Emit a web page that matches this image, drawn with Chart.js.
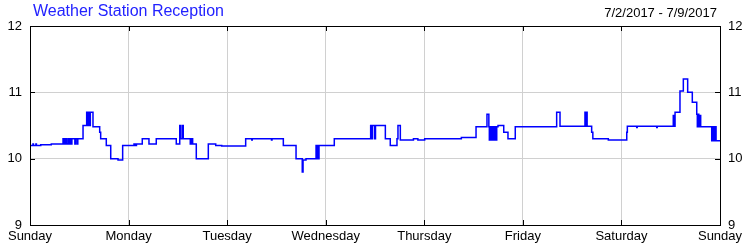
<!DOCTYPE html>
<html>
<head>
<meta charset="utf-8">
<script src="https://cdn.jsdelivr.net/npm/chart.js@4"></script>
<style>
  body { margin: 0; background: #fff; }
</style>
</head>
<body>
<canvas id="myChart" width="750" height="250"></canvas>
<script>
const titleText = "Weather Station Reception";
const dateRange = "7/2/2017 - 7/9/2017";
const days = ["Sunday", "Monday", "Tuesday", "Wednesday", "Thursday", "Friday", "Saturday", "Sunday"];
const yTicks = [9, 10, 11, 12];

// time in days since Sunday 00:00, value holds until next point
const times = [
  0.00, 0.03, 0.035, 0.06, 0.065, 0.109, 0.216, 0.335, 0.345, 0.36, 0.37, 0.386, 0.395, 0.405, 0.415, 0.425,
  0.455, 0.462, 0.478, 0.485, 0.538, 0.575, 0.585, 0.595, 0.60, 0.612, 0.639, 0.707, 0.717, 0.774, 0.819, 0.893, 0.940,
  1.055, 1.065, 1.08, 1.139, 1.207, 1.281, 1.484, 1.519, 1.527, 1.545, 1.555, 1.626, 1.64, 1.65, 1.687,
  1.809, 1.884, 1.945, 2.188, 2.25, 2.255, 2.45, 2.455, 2.570, 2.699, 2.762, 2.77, 2.800, 2.902, 2.91, 2.925, 2.928, 2.932,
  3.087, 3.456, 3.465, 3.475, 3.497, 3.505, 3.605, 3.655, 3.723, 3.733, 3.757, 3.89, 3.935, 4.004, 4.376, 4.525,
  4.636, 4.655, 4.660, 4.67, 4.68, 4.69, 4.70, 4.71, 4.72, 4.735, 4.748, 4.806, 4.849, 4.923, 5.184,
  5.343, 5.377, 5.630, 5.637, 5.645, 5.652, 5.698, 5.71, 5.867, 6.054, 6.06, 6.155, 6.16, 6.358, 6.363,
  6.526, 6.535, 6.544, 6.594, 6.628, 6.672, 6.719, 6.764, 6.77, 6.78, 6.785, 6.795, 6.804,
  6.916, 6.925, 6.94, 6.95, 6.96, 7.0
];
const reception = [
  10.20, 10.22, 10.20, 10.22, 10.20, 10.21, 10.22, 10.30, 10.22, 10.30, 10.22, 10.30, 10.22, 10.30, 10.22, 10.30,
  10.22, 10.30, 10.22, 10.30, 10.50, 10.70, 10.50, 10.70, 10.50, 10.70, 10.48, 10.40, 10.30, 10.20, 10.00, 9.98, 10.20,
  10.22, 10.20, 10.22, 10.30, 10.22, 10.30, 10.22, 10.50, 10.30, 10.50, 10.30, 10.22, 10.30, 10.22, 10.00,
  10.22, 10.20, 10.19, 10.30, 10.28, 10.30, 10.28, 10.30, 10.20, 10.00, 9.80, 9.98, 10.00, 10.20, 10.00, 10.20, 10.00, 10.20,
  10.30, 10.50, 10.30, 10.50, 10.30, 10.50, 10.30, 10.20, 10.30, 10.50, 10.28, 10.30, 10.28, 10.30, 10.32, 10.48,
  10.67, 10.48, 10.28, 10.48, 10.28, 10.48, 10.28, 10.48, 10.28, 10.48, 10.50, 10.40, 10.30, 10.48, 10.48,
  10.70, 10.49, 10.70, 10.49, 10.70, 10.49, 10.40, 10.30, 10.28, 10.40, 10.49, 10.47, 10.49, 10.47, 10.49,
  10.65, 10.49, 10.70, 11.02, 11.20, 11.00, 10.85, 10.67, 10.48, 10.67, 10.48, 10.65, 10.48,
  10.27, 10.48, 10.27, 10.48, 10.27, 10.27
];

const fontFamily = "'Liberation Sans', Arial, sans-serif";

const frame = {
  id: "frame",
  afterDatasetsDraw(chart) {
    const { ctx, chartArea: a, scales } = chart;
    ctx.save();
    ctx.strokeStyle = "#000";
    ctx.lineWidth = 1;
    ctx.beginPath();
    days.forEach((d, i) => {
      const x = Math.round(scales.x.getPixelForValue(i)) + 0.5;
      ctx.moveTo(x, a.bottom);
      ctx.lineTo(x, a.bottom - 5);
      ctx.moveTo(x, a.top);
      ctx.lineTo(x, a.top + 5);
    });
    yTicks.forEach((v) => {
      const y = Math.round(scales.y.getPixelForValue(v)) + 0.5;
      ctx.moveTo(a.left, y);
      ctx.lineTo(a.left + 5, y);
      ctx.moveTo(a.right, y);
      ctx.lineTo(a.right - 5, y);
    });
    ctx.stroke();
    ctx.strokeRect(Math.round(a.left) + 0.5, Math.round(a.top) + 0.5, Math.round(a.right - a.left), Math.round(a.bottom - a.top));
    ctx.restore();
  },
  afterDraw(chart) {
    const { ctx } = chart;
    ctx.save();
    ctx.textBaseline = "middle";
    ctx.font = "16px " + fontFamily;
    ctx.fillStyle = "#2222ff";
    ctx.textAlign = "left";
    ctx.fillText(titleText, 33, 12);
    ctx.font = "13px " + fontFamily;
    ctx.fillStyle = "#000";
    ctx.textAlign = "right";
    ctx.fillText(dateRange, 717, 13);
    ctx.restore();
  },
};

const tickFont = { family: fontFamily, size: 13 };

const ctx = document.getElementById("myChart");

new Chart(ctx, {
  type: "line",
  data: {
    datasets: [
      {
        data: times.map((t, i) => ({ x: t, y: reception[i] })),
        borderColor: "#0000ff",
        borderWidth: 1.5,
        pointRadius: 0,
        stepped: true,
        fill: false,
      },
    ],
  },
  options: {
    responsive: false,
    animation: false,
    layout: { padding: { top: 26, left: 0, right: 0, bottom: 0 } },
    plugins: {
      legend: { display: false },
      tooltip: { enabled: false },
    },
    scales: {
      x: {
        type: "linear",
        min: 0,
        max: 7,
        afterBuildTicks(scale) {
          scale.ticks = days.map((d, i) => ({ value: i }));
        },
        ticks: {
          callback(value) {
            return days[value];
          },
          color: "#000",
          font: tickFont,
          padding: 4,
          maxRotation: 0,
          autoSkip: false,
        },
        grid: { color: "#d0d0d0", drawTicks: false },
        border: { display: false },
        afterFit(scale) {
          scale.height = 25;
        },
      },
      y: {
        position: "left",
        min: 9,
        max: 12,
        afterBuildTicks(scale) {
          scale.ticks = yTicks.map((v) => ({ value: v }));
        },
        ticks: { color: "#000", font: tickFont, padding: 8 },
        grid: { color: "#d0d0d0", drawTicks: false },
        border: { display: false },
        afterFit(scale) {
          scale.width = 30;
        },
      },
      y2: {
        position: "right",
        min: 9,
        max: 12,
        afterBuildTicks(scale) {
          scale.ticks = yTicks.map((v) => ({ value: v }));
        },
        ticks: { color: "#000", font: tickFont, padding: 8 },
        grid: { display: false, drawTicks: false },
        border: { display: false },
        afterFit(scale) {
          scale.width = 30;
        },
      },
    },
  },
  plugins: [frame],
});
</script>
</body>
</html>
